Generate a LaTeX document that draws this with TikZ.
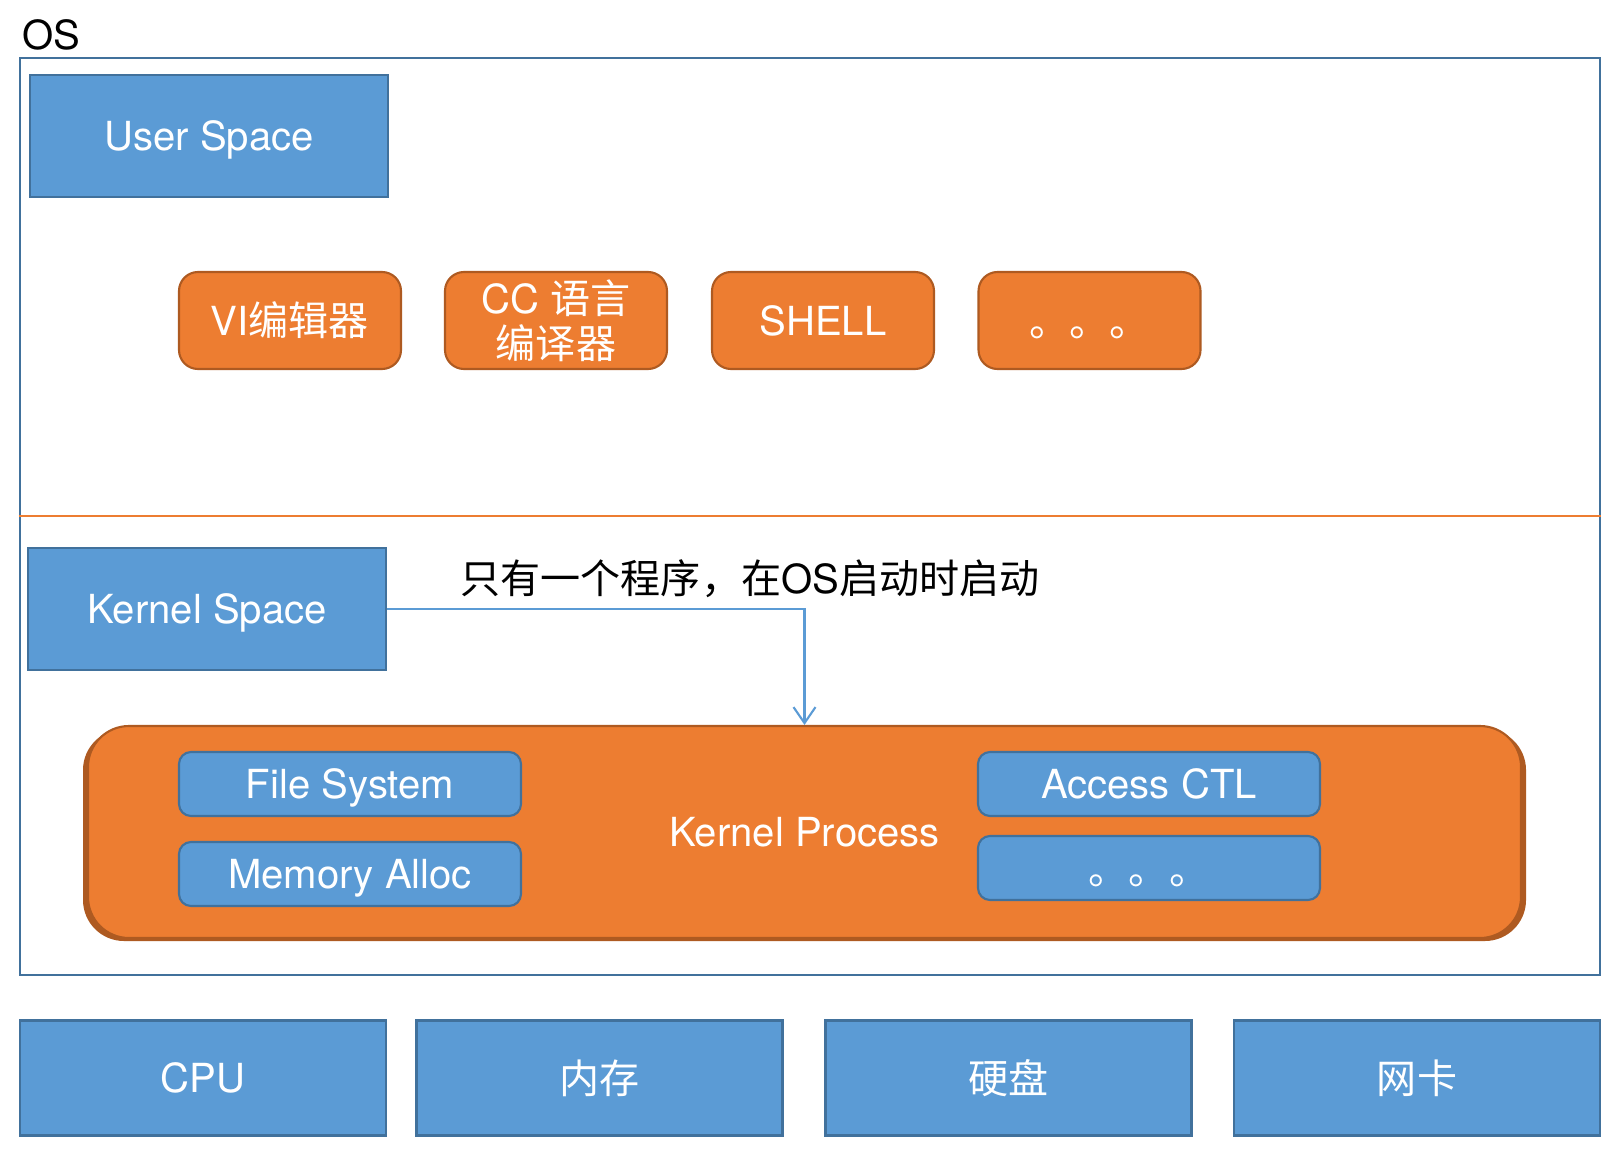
\documentclass[tikz,border=0pt]{standalone}
\usepackage{fontspec}
\setmainfont{TeX Gyre Heros}
\newfontfamily\cjk{Noto Sans CJK SC}
\usetikzlibrary{arrows.meta}
\definecolor{boxblue}{HTML}{5B9BD5}
\definecolor{edgeblue}{HTML}{41719C}
\definecolor{boxorange}{HTML}{ED7D31}
\definecolor{edgeorange}{HTML}{AE5A21}
\newcommand{\dotrow}{\raisebox{-4.6pt}[0pt][0pt]{\cjk 。。。}}

\begin{document}
\begin{tikzpicture}[y=-1cm,
  every node/.style={font=\fontsize{11.4}{12.8}\selectfont, inner sep=0pt},
  bluebox/.style={draw=edgeblue, fill=boxblue, line width=0.6pt, text=white},
  tool/.style={draw=edgeorange, fill=boxorange, line width=0.6pt, rounded corners=0.19cm,
    text=white, minimum width=2.22cm, minimum height=0.97cm, align=center},
  module/.style={bluebox, rounded corners=0.12cm, minimum width=3.42cm, minimum height=0.64cm, text depth=0pt},
  device/.style={bluebox, minimum width=3.66cm, minimum height=1.15cm},
  space/.style={bluebox, minimum width=3.58cm, minimum height=1.22cm, text depth=0pt},
  arrowline/.style={draw=boxblue, line width=0.6pt, -{Straight Barb[length=0.16cm,width=0.22cm]}}]
\useasboundingbox (0,0) rectangle (16.2,11.52);
% OS frame
\path (8.098,5.1645) node[draw=edgeblue, line width=0.6pt, minimum width=15.804cm, minimum height=9.171cm] (osframe) {};
\path (0.22,0.50) node[anchor=base west] (oslabel) {OS};
\coordinate (split) at (0,5.156);
\draw[boxorange, line width=0.6pt] (split -| osframe.west) -- (split -| osframe.east);

% user space
\path (2.09,1.36) node[space] (user) {User Space};
\path (2.90,3.205) node[tool] (vi) {VI{\cjk 编辑器}};
\path (5.56,3.205) node[tool] (cc) {CC {\cjk 语言}\\{\cjk 编译器}};
\path (8.23,3.205) node[tool] (shell) {SHELL};
\path (10.895,3.205) node[tool] (more) {\dotrow};

% kernel space
\path (2.07,6.09) node[space] (kernel) {Kernel Space};
\path (7.50,5.79) node (note) {{\cjk 只有一个程序，在}OS{\cjk 启动时启动}};
\fill[edgeorange, rounded corners=0.41cm] (0.83,7.29) rectangle (15.26,9.41);
\path (8.045,8.32) node[draw=edgeorange, fill=boxorange, line width=0.6pt, rounded corners=0.41cm,
  text=white, minimum width=14.33cm, minimum height=2.12cm] (kproc) {Kernel Process};
\path (3.50,7.84) node[module] (fs) {File System};
\path (3.50,8.74) node[module] (mem) {Memory Alloc};
\path (11.49,7.84) node[module] (acl) {Access CTL};
\path (11.49,8.68) node[module] (etc) {\dotrow};
\draw[arrowline] (kernel.east) -| (kproc.north);

% hardware
\path (2.03,10.78) node[device] (cpu) {CPU};
\path (5.995,10.78) node[device] (ram) {\cjk 内存};
\path (10.085,10.78) node[device] (disk) {\cjk 硬盘};
\path (14.17,10.78) node[device] (nic) {\cjk 网卡};

\end{tikzpicture}
\end{document}
